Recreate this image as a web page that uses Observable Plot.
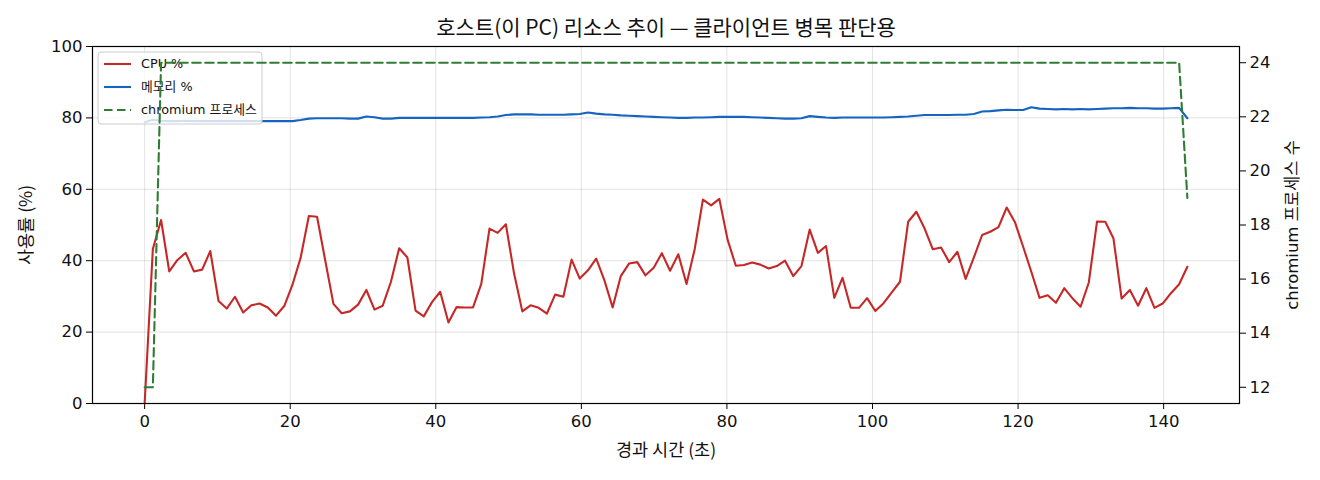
<!DOCTYPE html>
<html>
<head>
<meta charset="utf-8">
<script src="https://cdn.jsdelivr.net/npm/d3@7"></script>
<script src="https://cdn.jsdelivr.net/npm/@observablehq/plot@0.6"></script>
<style>
  html, body { margin: 0; padding: 0; background: #fff; }
  #fig { position: relative; width: 1320px; height: 480px; background: #fff; }
  #fig > svg { position: absolute; left: 0; top: 0; }
</style>
</head>
<body>
<div id="fig"></div>
<script>
// ---------------- data ----------------
const titleText = "호스트(이 PC) 리소스 추이 — 클라이언트 병목 판단용";
const xLabel = "경과 시간 (초)";
const yLabelLeft = "사용률 (%)";
const yLabelRight = "chromium 프로세스 수";
const seriesNames = ["CPU %", "메모리 %", "chromium 프로세스"];
const seriesColors = ["#c62828", "#1565c0", "#2e7d32"];

const xTicks = [0, 20, 40, 60, 80, 100, 120, 140];
const yTicksLeft = [0, 20, 40, 60, 80, 100];
const yTicksRight = [12, 14, 16, 18, 20, 22, 24];

// elapsed time (s) of each sample
const times = [
  0.00, 1.13, 2.26, 3.38, 4.51, 5.64, 6.77, 7.90, 9.02, 10.15,
  11.28, 12.41, 13.54, 14.66, 15.79, 16.92, 18.05, 19.18, 20.30, 21.43,
  22.56, 23.69, 24.82, 25.94, 27.07, 28.20, 29.33, 30.46, 31.58, 32.71,
  33.84, 34.97, 36.10, 37.22, 38.35, 39.48, 40.61, 41.74, 42.86, 43.99,
  45.12, 46.25, 47.38, 48.50, 49.63, 50.76, 51.89, 53.02, 54.14, 55.27,
  56.40, 57.53, 58.66, 59.78, 60.91, 62.04, 63.17, 64.30, 65.42, 66.55,
  67.68, 68.81, 69.94, 71.06, 72.19, 73.32, 74.45, 75.58, 76.70, 77.83,
  78.96, 80.09, 81.22, 82.34, 83.47, 84.60, 85.73, 86.86, 87.98, 89.11,
  90.24, 91.37, 92.50, 93.62, 94.75, 95.88, 97.01, 98.14, 99.26, 100.39,
  101.52, 102.65, 103.78, 104.90, 106.03, 107.16, 108.29, 109.42, 110.54, 111.67,
  112.80, 113.93, 115.06, 116.18, 117.31, 118.44, 119.57, 120.70, 121.82, 122.95,
  124.08, 125.21, 126.34, 127.46, 128.59, 129.72, 130.85, 131.98, 133.10, 134.23,
  135.36, 136.49, 137.62, 138.74, 139.87, 141.00, 142.13, 143.26
];

const cpuPct = [
  0.0, 43.3, 51.4, 37.0, 40.2, 42.2, 37.0, 37.5, 42.7, 28.7,
  26.6, 29.9, 25.5, 27.5, 28.0, 26.9, 24.6, 27.3, 33.2, 40.8,
  52.5, 52.3, 40.0, 27.9, 25.3, 25.8, 27.7, 31.8, 26.3, 27.4,
  34.1, 43.5, 40.9, 26.0, 24.4, 28.4, 31.3, 22.7, 27.0, 26.9,
  26.9, 33.5, 49.0, 47.8, 50.2, 36.4, 25.8, 27.5, 26.8, 25.2,
  30.5, 29.9, 40.3, 35.0, 37.3, 40.6, 34.5, 26.9, 35.7, 39.2,
  39.6, 35.9, 38.0, 42.1, 37.2, 41.8, 33.5, 43.3, 57.1, 55.5,
  57.3, 45.9, 38.6, 38.8, 39.5, 38.9, 37.8, 38.5, 40.0, 35.7,
  38.5, 48.7, 42.2, 44.1, 29.6, 35.2, 26.8, 26.8, 29.5, 25.9,
  28.1, 31.1, 34.1, 50.9, 53.7, 49.0, 43.2, 43.7, 39.6, 42.5,
  34.9, 40.9, 47.2, 48.1, 49.4, 54.9, 50.8, 43.9, 36.9, 29.6,
  30.3, 28.2, 32.3, 29.5, 27.1, 33.9, 51.0, 50.9, 46.3, 29.4,
  31.8, 27.4, 32.3, 26.8, 28.0, 30.9, 33.4, 38.3
];

const memPct = [
  78.8, 79.5, 79.2, 79.1, 79.1, 79.2, 79.1, 79.1, 79.1, 79.1,
  79.1, 79.1, 79.1, 79.1, 79.1, 79.1, 79.1, 79.1, 79.1, 79.4,
  79.8, 79.9, 79.9, 79.9, 79.9, 79.8, 79.8, 80.4, 80.2, 79.8,
  79.8, 80.0, 80.0, 80.0, 80.0, 80.0, 80.0, 80.0, 80.0, 80.0,
  80.0, 80.1, 80.2, 80.4, 80.8, 81.0, 81.0, 81.0, 80.9, 80.9,
  80.9, 80.9, 81.0, 81.1, 81.5, 81.2, 81.0, 80.9, 80.7, 80.6,
  80.5, 80.4, 80.3, 80.2, 80.1, 80.0, 80.0, 80.1, 80.1, 80.2,
  80.3, 80.3, 80.3, 80.3, 80.2, 80.1, 80.0, 79.9, 79.8, 79.8,
  79.9, 80.5, 80.3, 80.1, 80.0, 80.1, 80.1, 80.1, 80.1, 80.1,
  80.1, 80.2, 80.3, 80.4, 80.6, 80.8, 80.8, 80.8, 80.8, 80.9,
  80.9, 81.1, 81.8, 81.9, 82.1, 82.3, 82.2, 82.2, 83.0, 82.6,
  82.5, 82.4, 82.5, 82.4, 82.5, 82.4, 82.5, 82.6, 82.7, 82.7,
  82.8, 82.7, 82.7, 82.6, 82.6, 82.7, 82.8, 79.9
];

const chromiumProcs = [
  12, 12, 24, 24, 24, 24, 24, 24, 24, 24,
  24, 24, 24, 24, 24, 24, 24, 24, 24, 24,
  24, 24, 24, 24, 24, 24, 24, 24, 24, 24,
  24, 24, 24, 24, 24, 24, 24, 24, 24, 24,
  24, 24, 24, 24, 24, 24, 24, 24, 24, 24,
  24, 24, 24, 24, 24, 24, 24, 24, 24, 24,
  24, 24, 24, 24, 24, 24, 24, 24, 24, 24,
  24, 24, 24, 24, 24, 24, 24, 24, 24, 24,
  24, 24, 24, 24, 24, 24, 24, 24, 24, 24,
  24, 24, 24, 24, 24, 24, 24, 24, 24, 24,
  24, 24, 24, 24, 24, 24, 24, 24, 24, 24,
  24, 24, 24, 24, 24, 24, 24, 24, 24, 24,
  24, 24, 24, 24, 24, 24, 24, 19
];

// ---------------- layout ----------------
const W = 1320, H = 480;
const M = { left: 92, right: 81, top: 46, bottom: 77 };
const FONT = '"DejaVu Sans", "Noto Sans CJK KR", sans-serif';
const KFONT = '"Noto Sans CJK KR", "DejaVu Sans", sans-serif';
const TICK_FS = 16.5, LABEL_FS = 17.5, TITLE_FS = 21;

const rows = times.map((t, i) => ({ t, cpu: cpuPct[i], mem: memPct[i], proc: chromiumProcs[i] }));

// matplotlib-like 5% margins on x and on the right-hand y
const tExt = d3.extent(times);
const tPad = (tExt[1] - tExt[0]) * 0.05;
const xDomain = [tExt[0] - tPad, tExt[1] + tPad];
const pExt = d3.extent(chromiumProcs);
const pPad = (pExt[1] - pExt[0]) * 0.05;
const y2Domain = [pExt[0] - pPad, pExt[1] + pPad];

const baseStyle = { fontFamily: FONT, fontSize: "16px", color: "#111", background: "transparent", overflow: "visible", maxWidth: "none" };

const svg1 = Plot.plot({
  width: W, height: H,
  marginLeft: M.left, marginRight: M.right, marginTop: M.top, marginBottom: M.bottom,
  style: baseStyle,
  x: { domain: xDomain },
  y: { domain: [0, 100] },
  marks: [
    Plot.gridX(xTicks, { stroke: "#b0b0b0", strokeOpacity: 0.35, strokeWidth: 1 }),
    Plot.gridY(yTicksLeft, { stroke: "#b0b0b0", strokeOpacity: 0.35, strokeWidth: 1 }),
    Plot.axisX(xTicks, { tickSize: 6, tickPadding: 6, label: null, fontSize: TICK_FS, stroke: "#000" }),
    Plot.axisY(yTicksLeft, { tickSize: 6, tickPadding: 4, label: null, fontSize: TICK_FS, stroke: "#000" }),
    Plot.line(rows, { x: "t", y: "cpu", stroke: seriesColors[0], strokeWidth: 2.1 }),
    Plot.line(rows, { x: "t", y: "mem", stroke: seriesColors[1], strokeWidth: 2.1 }),
    Plot.frame({ stroke: "#000", strokeWidth: 1.2 }),
    Plot.text([titleText], { frameAnchor: "top", dy: -18, fontSize: TITLE_FS, fontFamily: KFONT, fill: "#111", lineAnchor: "middle" }),
    Plot.text([xLabel], { frameAnchor: "bottom", dy: 47, fontSize: LABEL_FS, fontFamily: KFONT, fill: "#111", lineAnchor: "middle" }),
    Plot.text([yLabelLeft], { frameAnchor: "left", dx: -66, rotate: -90, textAnchor: "middle", lineAnchor: "middle", fontSize: LABEL_FS, fontFamily: KFONT, fill: "#111" })
  ]
});

const svg2 = Plot.plot({
  width: W, height: H,
  marginLeft: M.left, marginRight: M.right, marginTop: M.top, marginBottom: M.bottom,
  style: baseStyle,
  x: { domain: xDomain, axis: null },
  y: { domain: y2Domain, axis: null },
  marks: [
    Plot.axisY(yTicksRight, { anchor: "right", tickSize: 6, tickPadding: 4, label: null, fontSize: TICK_FS, stroke: "#000" }),
    Plot.line(rows, { x: "t", y: "proc", stroke: seriesColors[2], strokeWidth: 2.1, strokeDasharray: "8.5,4.5" }),
    Plot.text([yLabelRight], { frameAnchor: "right", dx: 53, rotate: -90, textAnchor: "middle", lineAnchor: "middle", fontSize: LABEL_FS - 1, fontFamily: FONT, fill: "#111" })
  ]
});

// ---------------- legend (between the two layers, like matplotlib) ----------------
const legend = d3.create("svg")
  .attr("width", 168).attr("height", 76)
  .style("position", "absolute").style("left", "97px").style("top", "51px")
  .style("overflow", "visible");
legend.append("rect")
  .attr("x", 1).attr("y", 1).attr("width", 164).attr("height", 72).attr("rx", 3)
  .attr("fill", "rgba(255,255,255,0.8)").attr("stroke", "#cccccc").attr("stroke-width", 1);
const rowY = [13, 36, 59];
seriesNames.forEach((name, i) => {
  legend.append("line")
    .attr("x1", 7).attr("x2", 34).attr("y1", rowY[i]).attr("y2", rowY[i])
    .attr("stroke", seriesColors[i]).attr("stroke-width", 2.1)
    .attr("stroke-dasharray", i === 2 ? "8.5,4.5" : null);
  legend.append("text")
    .attr("x", 44).attr("y", rowY[i]).attr("dy", "0.35em")
    .attr("font-family", FONT).attr("font-size", 12.8).attr("fill", "#111")
    .text(name);
});

const fig = document.getElementById("fig");
fig.append(svg1);
fig.append(legend.node());
fig.append(svg2);
svg2.style.background = "transparent";
svg1.style.background = "transparent";
</script>
</body>
</html>
